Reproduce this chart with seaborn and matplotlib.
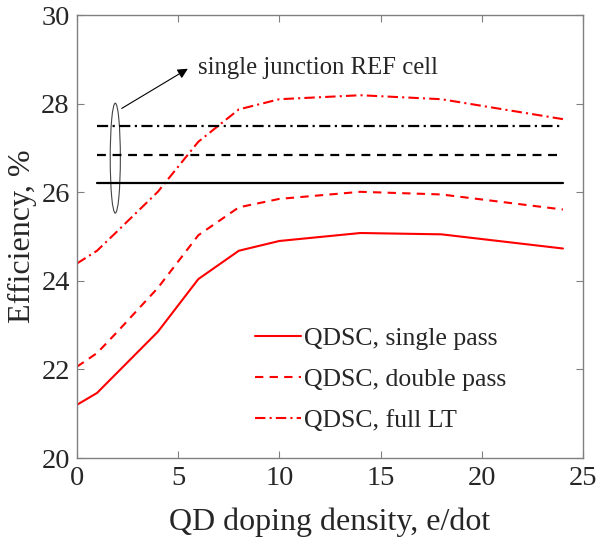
import matplotlib
matplotlib.use('Agg')
import matplotlib.pyplot as plt
from matplotlib.patches import Ellipse
import seaborn as sns
import pandas as pd

# dados
doping = [0, 1, 2, 4, 6, 8, 10, 14, 18, 24]
single_pass = [21.20, 21.47, 21.93, 22.85, 24.04, 24.68, 24.90, 25.08, 25.05, 24.73]
double_pass = [22.06, 22.37, 22.85, 23.84, 25.03, 25.66, 25.85, 26.01, 25.95, 25.61]
full_lt = [24.39, 24.68, 25.12, 26.01, 27.14, 27.87, 28.10, 28.19, 28.10, 27.65]

ref_x = [1, 24]
ref_single = 26.20
ref_double = 26.85
ref_full = 27.49

sns.set_style('ticks')
plt.rcParams['font.family'] = ['Liberation Serif', 'DejaVu Serif']

df = pd.DataFrame({'x': doping, 'single': single_pass, 'double': double_pass, 'full': full_lt})

fig = plt.figure(figsize=(6, 5.37), dpi=100)
ax = fig.add_axes([0.128, 0.147, 0.844, 0.825])

red = '#ff0000'
dashed = (0, (4, 3))
dashdot = (0, (5, 2, 1, 2))
sns.lineplot(data=df, x='x', y='single', ax=ax, color=red, lw=1.5, label='QDSC, single pass')
sns.lineplot(data=df, x='x', y='double', ax=ax, color=red, lw=1.5, linestyle=dashed,
             label='QDSC, double pass')
sns.lineplot(data=df, x='x', y='full', ax=ax, color=red, lw=1.5, linestyle=dashdot,
             label='QDSC, full LT')

# linhas de referência (célula de junção única)
ax.plot(ref_x, [ref_single] * 2, color='black', lw=1.6)
ax.plot(ref_x, [ref_double] * 2, color='black', lw=1.6, linestyle=dashed)
ax.plot(ref_x, [ref_full] * 2, color='black', lw=1.6, linestyle=dashdot)

ax.add_patch(Ellipse((1.9, 26.77), 0.5, 2.48, fill=False, edgecolor='#444444', lw=0.8))
ax.annotate('', xy=(5.6, 28.82), xytext=(2.1, 27.86),
            arrowprops=dict(arrowstyle='-|>', color='black', lw=0.8, mutation_scale=15))
ax.text(6.0, 28.8, 'single junction REF cell', fontsize=17.8, va='center', ha='left')

ax.set_xlim(0, 25)
ax.set_ylim(20, 30)
ax.set_xticks([0, 5, 10, 15, 20, 25])
ax.set_yticks([20, 22, 24, 26, 28, 30])
ax.set_xlabel('QD doping density, e/dot', fontsize=23, va='top')
ax.set_ylabel('Efficiency, %', fontsize=23)
ax.xaxis.set_label_coords(0.5, -0.112)
ax.yaxis.set_label_coords(-0.078, 0.5)
ax.tick_params(direction='in', length=5, width=0.8, color='#808080', labelsize=20.5,
               top=True, right=True)
ax.tick_params(axis='x', pad=6)
ax.tick_params(axis='y', pad=5)
for s in ax.spines.values():
    s.set_color('#808080')
    s.set_linewidth(1.0)

leg = ax.legend(loc='upper left', frameon=False, fontsize=18.5, handlelength=1.8,
                handletextpad=0.1, labelspacing=0.7, borderaxespad=0,
                bbox_to_anchor=(0.332, 0.32))

fig.savefig('out.png', dpi=100)
